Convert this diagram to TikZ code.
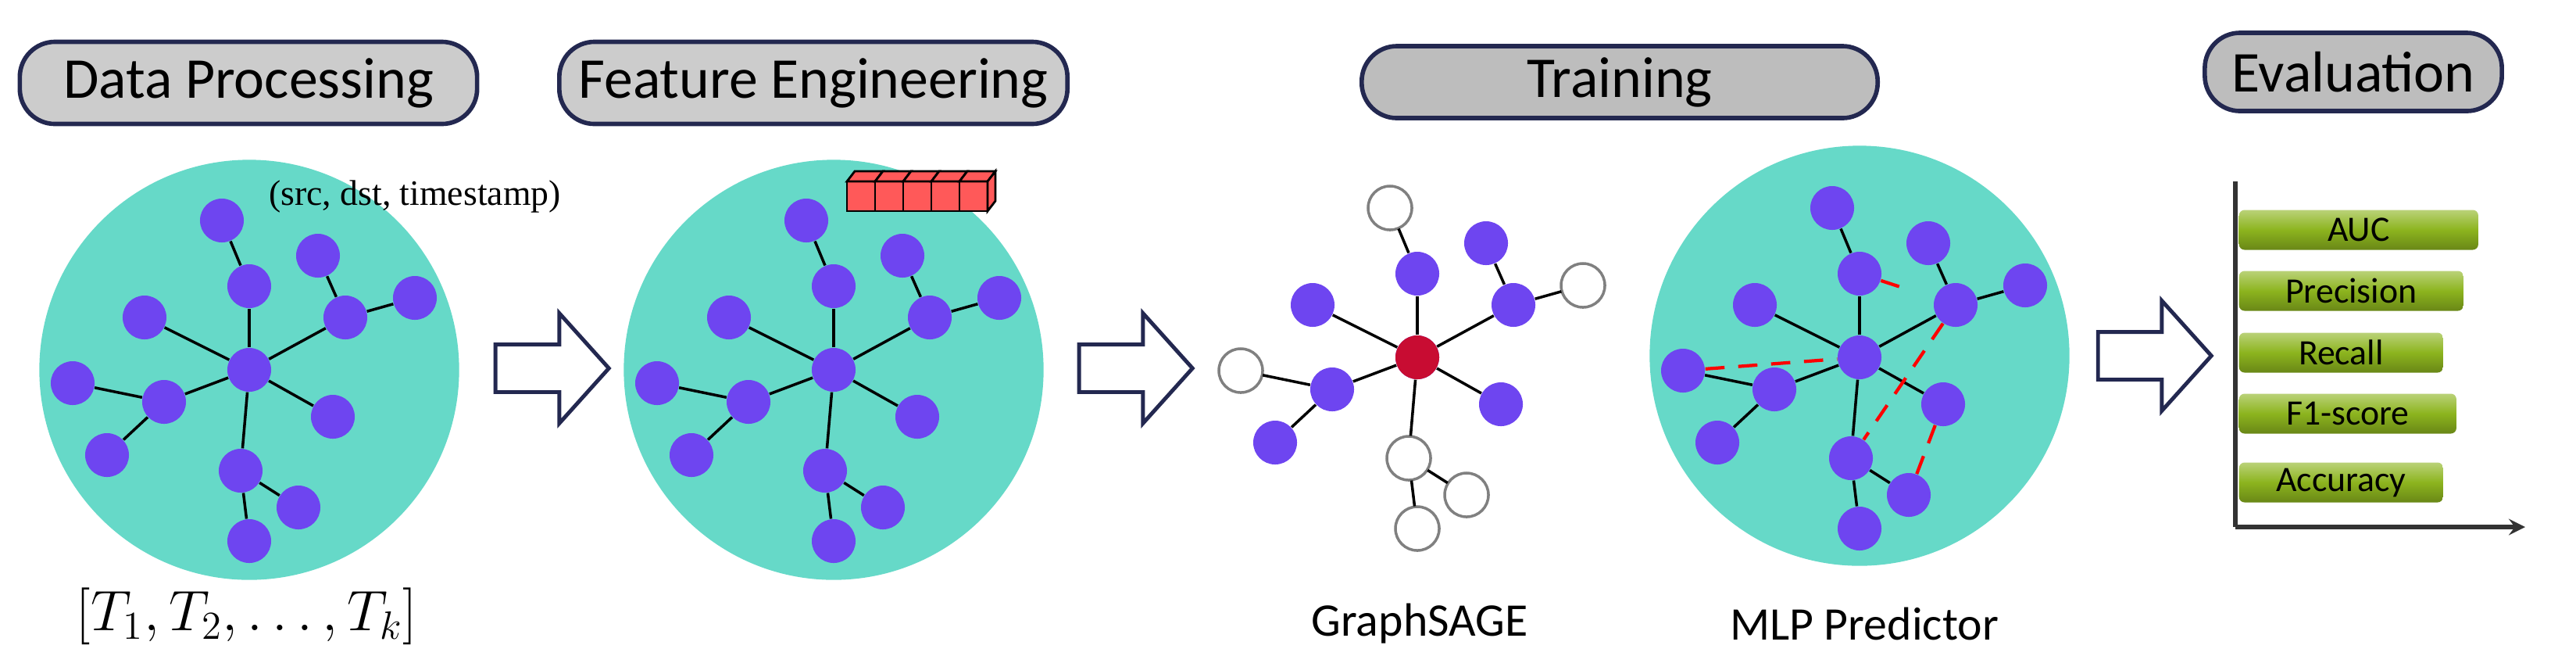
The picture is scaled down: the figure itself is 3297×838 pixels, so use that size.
\documentclass[tikz,border=0pt]{standalone}
\usepackage{fontspec}
\setmainfont{Carlito}
\newfontfamily\tnr{Liberation Serif}
\usepackage{amsmath}
\usetikzlibrary{shapes.geometric, shapes.arrows, arrows, positioning, calc}
\definecolor{teal}{RGB}{102, 217, 200}
\definecolor{vnode}{RGB}{110, 69, 240}
\definecolor{navy}{RGB}{35, 40, 80}
\definecolor{crim}{RGB}{200, 12, 50}
\definecolor{bar}{RGB}{140, 180, 30}
\tikzstyle{stage} = [rectangle, rounded corners=0.45cm, draw=navy, line width=1.6pt, text centered, font=\fontsize{21}{25}\selectfont]
\tikzstyle{vtx} = [circle, fill=vnode, minimum size=0.56cm, inner sep=0pt]
\tikzstyle{hollow} = [circle, fill=white, draw=gray, line width=1pt, minimum size=0.56cm, inner sep=0pt]
\tikzstyle{edge} = [line width=1pt]
\tikzstyle{pred} = [red, dashed, line width=1.2pt, dash pattern=on 7pt off 5pt]
\tikzstyle{blockarrow} = [single arrow, draw=navy, fill=white, line width=1.4pt, minimum height=1.45cm, inner sep=0.28cm, single arrow head extend=0.4cm, single arrow tip angle=96]
\tikzstyle{metric} = [rectangle, rounded corners=2pt, minimum height=0.51cm, inner sep=0pt, font=\fontsize{13}{15}\selectfont, top color=bar!60!white, bottom color=bar!75!black, middle color=bar, anchor=west]
\tikzstyle{arrow} = [thick,->,>=stealth]

% one star graph: prefix, centre
\newcommand{\stargraph}[3]{%
  \begin{scope}[shift={(#2,#3)}]
    \node[vtx] (#1c) at (0,0) {};
    \foreach \n/\x/\y in {1/-35/-191, 2/0/-107, 3/88/-146, 4/123/-67, 5/212/-92, 6/-134/-67,
      7/-226/17, 8/-109/41, 9/-182/109, 10/107/60, 11/-11/129, 12/63/176, 13/0/219}
      \node[vtx] (#1\n) at (\x,\y) {};
  \end{scope}}
\newcommand{\staredges}[1]{%
  \foreach \a/\b in {c/2, 2/1, c/4, 4/3, 4/5, c/6, c/8, 8/7, 8/9, c/10, c/11, 11/12, 11/13}
    \draw[edge] (#1\a) -- (#1\b);}

\begin{document}
\begin{tikzpicture}[x=0.01cm, y=-0.01cm]
\useasboundingbox (0,0) rectangle (3297,838);

% stage titles
\node[stage, fill=gray!40, minimum width=5.85cm, minimum height=1.05cm] (dp) at (318,106) {Data Processing};
\node[stage, fill=gray!40, minimum width=6.5cm, minimum height=1.05cm] (fe) at (1041,106) {Feature Engineering};
\node[stage, fill=gray!52, minimum width=6.6cm, minimum height=0.92cm] (tr) at (2073,105) {Training};
\node[stage, fill=gray!52, minimum width=3.8cm, minimum height=1.0cm] (ev) at (3012,92) {Evaluation};

% graph regions
\node[circle, fill=teal, minimum size=5.37cm] (g1) at (319,473) {};
\node[circle, fill=teal, minimum size=5.37cm] (g2) at (1067,473) {};
\node[circle, fill=teal, minimum size=5.37cm] (g3) at (2380,455) {};

\stargraph{a}{319}{473}
\staredges{a}
\stargraph{b}{1067}{473}
\staredges{b}
\stargraph{s}{1814}{457}
\foreach \n in {1,5,7,11,12,13} \node[hollow] at (s\n) {};
\node[vtx, fill=crim] at (sc) {};
\staredges{s}
\stargraph{m}{2380}{457}
\staredges{m}
\draw[pred] (m7) -- (mc);
\draw[pred] (m2) -- ($(m2)!0.45!(m4)$);
\draw[pred] (m4) -- (m11);
\draw[pred] (m10) -- (m12);

% texts
\node[font=\tnr\fontsize{13}{15}\selectfont] (tuple) at (531,251) {(src, dst, timestamp)};
\node[font=\tnr\fontsize{20}{24}\selectfont] (seq) at (316,788) {$\left[T_1,T_2,\ldots,T_k\right]$};
\node[font=\fontsize{17}{20}\selectfont] (sage) at (1817,798) {GraphSAGE};
\node[font=\fontsize{17}{20}\selectfont] (mlp) at (2386,798) {MLP Predictor};

% feature vector
\foreach \i in {0,...,4} {
  \draw[fill=red!65, line width=0.8pt] (1084+36*\i,232) rectangle ++(36,38);
  \draw[fill=red!65, line width=0.8pt] (1084+36*\i,232) -- ++(10,-13) -- ++(36,0) -- ++(-10,13) -- cycle;
}
\draw[fill=red!65, line width=0.8pt] (1264,232) -- ++(10,-13) -- ++(0,38) -- ++(-10,13) -- cycle;

% block arrows
\node[blockarrow] (ar1) at (693,471) {};
\node[blockarrow] (ar2) at (1440,471) {};
\node[blockarrow] (ar3) at (2744,455) {};

% metrics
\coordinate (orig) at (2861,674);
\coordinate (ytop) at (2861,232);
\coordinate (xend) at (3232,674);
\draw[line width=1.6pt, draw=black!80] (ytop) -- (orig);
\draw[arrow, line width=1.6pt, draw=black!80] (orig) -- (xend);
\node[metric, minimum width=3.06cm] (auc) at (2865,294) {AUC};
\node[metric, minimum width=2.87cm] (prec) at (2865,372) {Precision};
\node[metric, minimum width=2.61cm] (rec) at (2865,451) {Recall};
\node[metric, minimum width=2.78cm] (f1) at (2865,529) {F1-score};
\node[metric, minimum width=2.61cm] (acc) at (2865,617) {Accuracy};
\end{tikzpicture}
\end{document}
